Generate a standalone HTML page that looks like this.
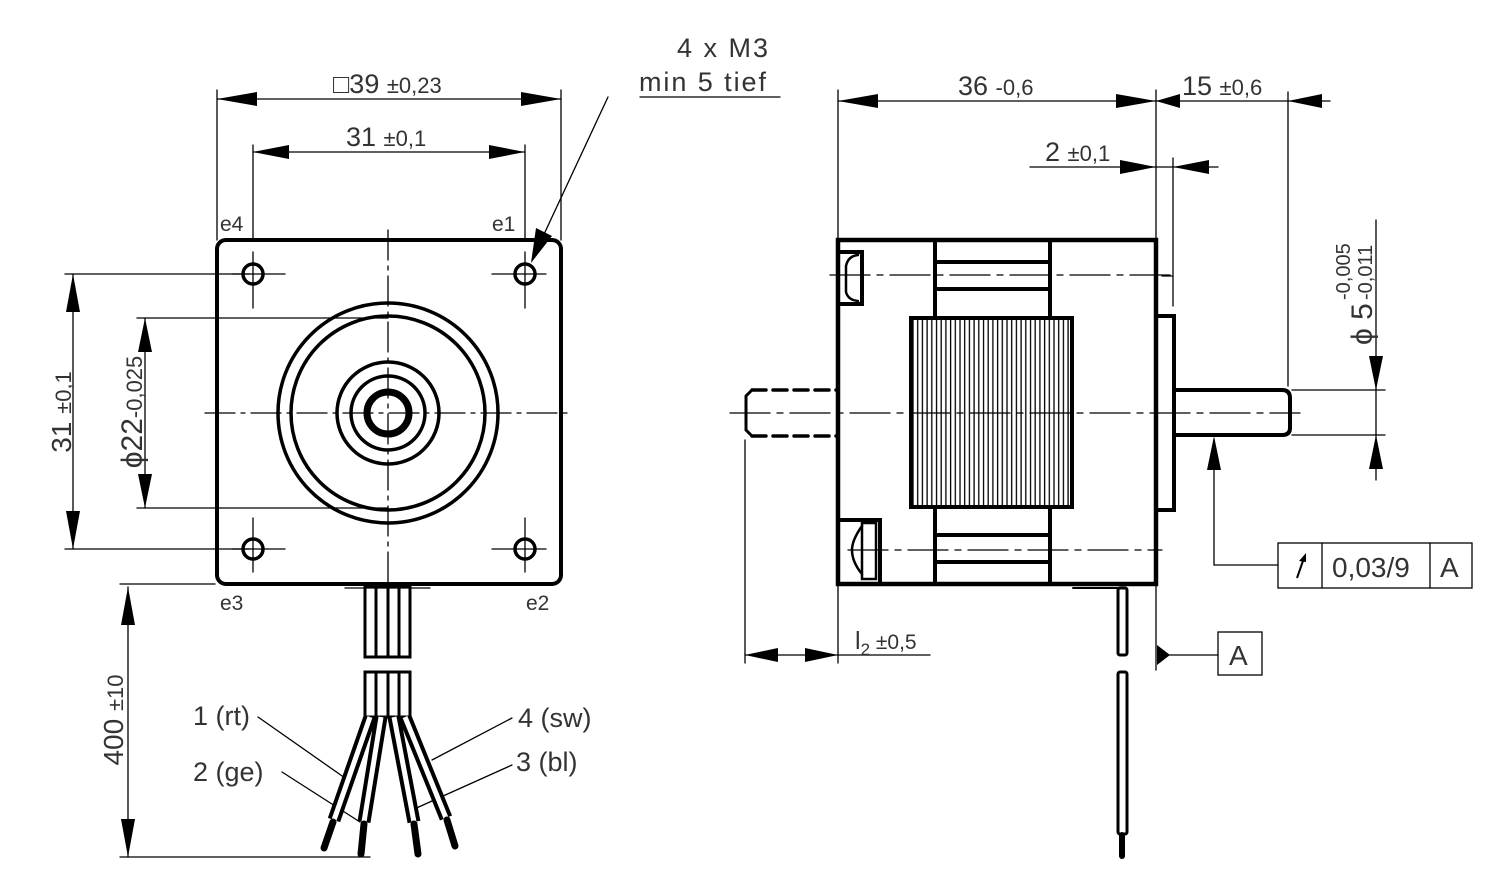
<!DOCTYPE html>
<html><head><meta charset="utf-8"><style>
html,body{margin:0;padding:0;background:#fff;}
svg{display:block;}
text{font-family:"Liberation Sans",sans-serif;fill:#333;}
</style></head><body>
<svg width="1500" height="882" viewBox="0 0 1500 882" xmlns="http://www.w3.org/2000/svg">
<defs>
<pattern id="st" x="911" y="0" width="4.7" height="10" patternUnits="userSpaceOnUse">
<line x1="2" y1="0" x2="2" y2="10" stroke="#000" stroke-width="1.3"/>
</pattern>
</defs>
<g fill="none" stroke="#000" stroke-linecap="round">
<rect x="217" y="240" width="344" height="344" rx="9" stroke-width="4"/>
<g stroke-width="3.5">
<circle cx="253" cy="274" r="10"/><circle cx="525" cy="274" r="10"/>
<circle cx="253" cy="549" r="10"/><circle cx="525" cy="549" r="10"/>
<circle cx="388" cy="413" r="110"/><circle cx="388" cy="413" r="97"/>
<circle cx="388" cy="413" r="51"/><circle cx="388" cy="413" r="37"/>
</g>
<circle cx="388" cy="413" r="21" stroke-width="7"/>
<g stroke-width="1.3" stroke-dasharray="30,6,4,6">
<line x1="205" y1="413" x2="568" y2="413"/>
<line x1="388" y1="230" x2="388" y2="590"/>
</g>
<g stroke-width="1.3">
<line x1="232" y1="274" x2="285" y2="274"/><line x1="253" y1="252" x2="253" y2="308"/>
<line x1="492" y1="274" x2="546" y2="274"/><line x1="525" y1="252" x2="525" y2="308"/>
<line x1="232" y1="549" x2="285" y2="549"/><line x1="253" y1="518" x2="253" y2="572"/>
<line x1="492" y1="549" x2="546" y2="549"/><line x1="525" y1="518" x2="525" y2="572"/>
<line x1="217" y1="90" x2="217" y2="240"/><line x1="561" y1="90" x2="561" y2="240"/>
<line x1="217" y1="99" x2="561" y2="99"/>
<line x1="253" y1="145" x2="253" y2="240"/><line x1="525" y1="145" x2="525" y2="240"/>
<line x1="253" y1="152" x2="525" y2="152"/>
<line x1="65" y1="274" x2="250" y2="274"/><line x1="65" y1="549" x2="250" y2="549"/>
<line x1="73" y1="274" x2="73" y2="549"/>
<line x1="137" y1="318" x2="388" y2="318"/><line x1="137" y1="508" x2="388" y2="508"/>
<line x1="145" y1="318" x2="145" y2="508"/>
<line x1="640" y1="97" x2="780" y2="97"/><line x1="608" y1="97" x2="532" y2="260"/>
<line x1="120" y1="584" x2="215" y2="584"/><line x1="120" y1="857" x2="370" y2="857"/>
<line x1="128" y1="587" x2="128" y2="857"/>
<line x1="258" y1="717" x2="345" y2="778"/>
<line x1="282" y1="772" x2="360" y2="822"/>
<line x1="512" y1="718" x2="432" y2="760"/>
<line x1="512" y1="765" x2="412" y2="810"/>
<line x1="345" y1="588" x2="430" y2="588"/>
</g>
<g stroke-width="3">
<rect x="365" y="587" width="45" height="70"/>
<line x1="376" y1="587" x2="376" y2="657"/><line x1="388" y1="587" x2="388" y2="657"/><line x1="399" y1="587" x2="399" y2="657"/>
<rect x="365" y="672" width="45" height="45"/>
<line x1="376" y1="672" x2="376" y2="717"/><line x1="388" y1="672" x2="388" y2="717"/><line x1="399" y1="672" x2="399" y2="717"/>
</g>
<g stroke-linecap="butt">
<path d="M370 717 L334 820 M381 717 L364 822 M394 717 L414 822 M405 717 L446 818" stroke-width="13"/>
<path d="M370 717 L334 820 M381 717 L364 822 M394 717 L414 822 M405 717 L446 818" stroke="#fff" stroke-width="5"/>
</g>
<g stroke-width="7">
<line x1="333" y1="822" x2="324" y2="848"/><line x1="364" y1="824" x2="361" y2="854"/>
<line x1="414" y1="824" x2="418" y2="854"/><line x1="447" y1="820" x2="455" y2="846"/>
</g>

<rect x="838" y="240" width="318" height="344" stroke-width="4.5"/>
<g stroke-width="4">
<line x1="935" y1="240" x2="935" y2="318"/><line x1="1050" y1="240" x2="1050" y2="318"/>
<line x1="935" y1="507" x2="935" y2="584"/><line x1="1050" y1="507" x2="1050" y2="584"/>
<line x1="935" y1="262" x2="1050" y2="262"/><line x1="935" y1="289" x2="1050" y2="289"/>
<line x1="935" y1="535" x2="1050" y2="535"/><line x1="935" y1="562" x2="1050" y2="562"/>
<rect x="911" y="318" width="161" height="189" fill="url(#st)"/>
<path d="M840 252 H862 V304 H840"/>
<path d="M840 520 H880 V584"/>
<path d="M1156 316 H1174 V510 H1156"/>
<path d="M1174 390 H1282 Q1290 390 1290 398 V428 Q1290 435 1282 435 H1174"/>
</g>
<g stroke-width="2.5">
<path d="M858 255 Q848 256 846 266 V292 Q848 300 858 301"/>
<rect x="862" y="523" width="14" height="56"/>
<path d="M862 526 Q852 540 852 550 Q852 562 862 574"/>
</g>
<g stroke-width="3.5" stroke-dasharray="14,7">
<line x1="752" y1="390" x2="838" y2="390"/><line x1="752" y1="436" x2="838" y2="436"/>
</g>
<path d="M752 390 L746 396 V430 L752 436" stroke-width="3"/>
<g stroke-width="1.3" stroke-dasharray="40,7,6,7">
<line x1="730" y1="413" x2="1300" y2="413"/>
<line x1="830" y1="275" x2="1172" y2="275"/>
<line x1="848" y1="550" x2="1162" y2="550"/>
</g>
<g stroke-width="3">
<rect x="1118" y="588" width="9" height="67" rx="2"/>
<rect x="1118" y="672" width="9" height="162" rx="2"/>
</g>
<line x1="1122" y1="835" x2="1122" y2="856" stroke-width="6"/>
<line x1="1073" y1="588" x2="1126" y2="588" stroke-width="2"/>
<g stroke-width="1.3">
<line x1="838" y1="90" x2="838" y2="240"/><line x1="1156" y1="90" x2="1156" y2="240"/>
<line x1="838" y1="101" x2="1330" y2="101"/>
<line x1="1288" y1="92" x2="1288" y2="386"/>
<line x1="1030" y1="167" x2="1218" y2="167"/>
<line x1="1173" y1="158" x2="1173" y2="306"/>
<line x1="1162" y1="276" x2="1172" y2="276"/>
<line x1="1376" y1="220" x2="1376" y2="480"/>
<line x1="1292" y1="390" x2="1385" y2="390"/><line x1="1292" y1="435" x2="1385" y2="435"/>
<line x1="1214" y1="440" x2="1214" y2="565"/><line x1="1214" y1="565" x2="1278" y2="565"/>
<rect x="1278" y="543" width="194" height="45"/>
<line x1="1322" y1="543" x2="1322" y2="588"/><line x1="1430" y1="543" x2="1430" y2="588"/>
<line x1="1156" y1="584" x2="1156" y2="670"/>
<line x1="1160" y1="655" x2="1218" y2="655"/>
<rect x="1218" y="632" width="44" height="43"/>
<line x1="745" y1="440" x2="745" y2="663"/><line x1="838" y1="584" x2="838" y2="663"/>
<line x1="745" y1="655" x2="838" y2="655"/><line x1="838" y1="655" x2="930" y2="655"/>
</g>
</g>
<g fill="#000" stroke="none">
<polygon points="217,99 257,92 257,106"/><polygon points="561,99 521,92 521,106"/>
<polygon points="253,152 289,145 289,159"/><polygon points="525,152 489,145 489,159"/>
<polygon points="73,274 66,312 80,312"/><polygon points="73,549 66,511 80,511"/>
<polygon points="145,318 138,352 152,352"/><polygon points="145,508 138,474 152,474"/>
<polygon points="128,587 121,625 135,625"/><polygon points="128,857 121,819 135,819"/>
<polygon points="531,263 536,228 552,236"/>
<polygon points="838,101 878,94 878,108"/><polygon points="1156,101 1116,94 1116,108"/>
<polygon points="1156,101 1180,94 1180,108"/><polygon points="1288,101 1322,94 1322,108"/>
<polygon points="1156,167 1120,160 1120,174"/><polygon points="1173,167 1209,160 1209,174"/>
<polygon points="1376,390 1369,356 1383,356"/><polygon points="1376,435 1369,469 1383,469"/>
<polygon points="1214,436 1207,470 1221,470"/>
<polygon points="1157,645 1170,655 1157,665"/>
<polygon points="745,655 778,648 778,662"/><polygon points="838,655 805,648 805,662"/>
</g>
<path d="M1297 578 L1304 558" stroke="#000" stroke-width="2"/><polygon points="1306,553 1299,561 1306,562" fill="#000"/>
<g font-size="27" textLength="">
<text x="333" y="93" font-size="27">□39 <tspan font-size="22">±0,23</tspan></text>
<text x="346" y="146" font-size="27">31 <tspan font-size="22">±0,1</tspan></text>
<text x="677" y="57" font-size="27" textLength="91">4 x M3</text>
<text x="639" y="91" font-size="27" textLength="127">min 5 tief</text>
<text x="220" y="231" font-size="21">e4</text><text x="492" y="231" font-size="21">e1</text>
<text x="220" y="610" font-size="21">e3</text><text x="526" y="610" font-size="21">e2</text>
<text transform="translate(71,412) rotate(-90)" text-anchor="middle" font-size="28">31 <tspan font-size="22">±0,1</tspan></text>
<text transform="translate(142,412) rotate(-90)" text-anchor="middle" font-size="30">ϕ22<tspan font-size="22">-0,025</tspan></text>
<text transform="translate(123,720) rotate(-90)" text-anchor="middle" font-size="28">400 <tspan font-size="22">±10</tspan></text>
<text x="193" y="725" font-size="27">1 (rt)</text>
<text x="193" y="781" font-size="27">2 (ge)</text>
<text x="518" y="727" font-size="27">4 (sw)</text>
<text x="516" y="771" font-size="27">3 (bl)</text>
<text x="958" y="95" font-size="27">36 <tspan font-size="22">-0,6</tspan></text>
<text x="1182" y="95" font-size="27">15 <tspan font-size="22">±0,6</tspan></text>
<text x="1045" y="161" font-size="27">2 <tspan font-size="22">±0,1</tspan></text>
<text transform="translate(1372,345) rotate(-90)" font-size="30">ϕ 5</text>
<text transform="translate(1350,300) rotate(-90)" font-size="20">-0,005</text>
<text transform="translate(1372,300) rotate(-90)" font-size="20">-0,011</text>
<text x="1332" y="577" font-size="28">0,03/9</text>
<text x="1440" y="577" font-size="28">A</text>
<text x="1229" y="665" font-size="28">A</text>
<text x="855" y="649" font-size="25">l<tspan font-size="17" dy="6">2</tspan><tspan dy="-6" font-size="21"> ±0,5</tspan></text>
</g>
</svg>
</body></html>
